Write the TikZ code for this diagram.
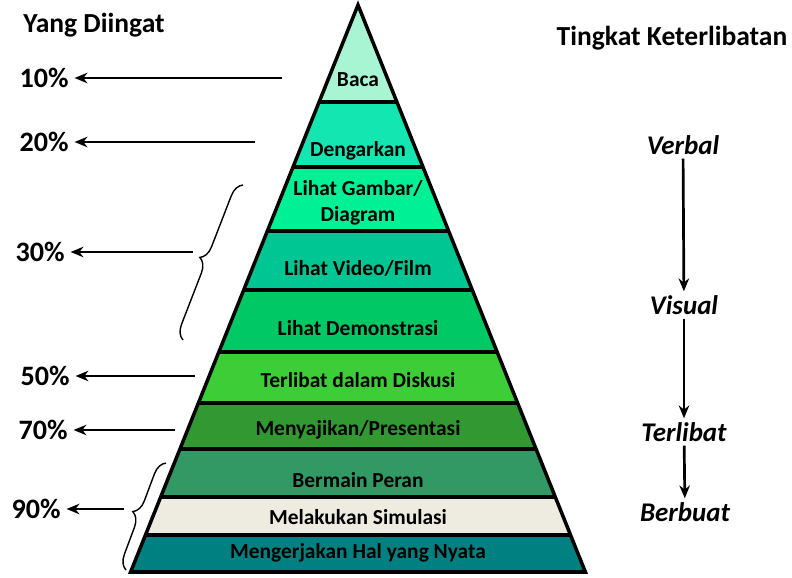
\documentclass[tikz,border=0pt]{standalone}
\usepackage{fontspec}
\setmainfont{Carlito}
\usepackage{tikz}
\usetikzlibrary{arrows.meta,decorations.pathreplacing}

\definecolor{baca}{RGB}{168,245,212}
\definecolor{dengar}{RGB}{20,230,178}
\definecolor{gambar}{RGB}{0,240,150}
\definecolor{video}{RGB}{0,198,148}
\definecolor{demo}{RGB}{0,200,100}
\definecolor{diskusi}{RGB}{60,205,55}
\definecolor{saji}{RGB}{50,152,50}
\definecolor{peran}{RGB}{50,152,100}
\definecolor{simulasi}{RGB}{238,236,225}
\definecolor{nyata}{RGB}{0,128,128}

\tikzset{
  declare function={pl(\y)=358-0.401*(\y-5); pr(\y)=358+0.401*(\y-5);},
  edge/.style={draw=black, line width=3pt},
  lbl/.style={font=\fontsize{18.3}{22}\selectfont\bfseries, align=center},
  pct/.style={font=\fontsize{24}{26}\selectfont\bfseries, inner sep=5pt},
  ttl/.style={font=\fontsize{23.5}{25}\selectfont\bfseries},
  lvl/.style={font=\fontsize{23}{25}\selectfont\bfseries\itshape},
  arr/.style={-{Stealth[length=11pt,width=9pt]}, line width=1.8pt},
  darr/.style={arr, line width=2.3pt},
  brc/.style={decorate, decoration={brace, amplitude=12pt}, line width=1.2pt}
}

\begin{document}
\begin{tikzpicture}[x=0.3mm, y=-0.3mm]
	\useasboundingbox (0,0) rectangle (792,578);

	% the bands of the pyramid
	\foreach \ya/\yb/\col in {5/102/baca, 102/167/dengar, 167/231/gambar, 231/290/video, 290/352/demo, 352/403/diskusi, 403/449/saji, 449/497/peran, 497/535/simulasi, 535/572/nyata}
		\fill[\col] ({pl(\ya)},\ya) -- ({pr(\ya)},\ya) -- ({pr(\yb)},\yb) -- ({pl(\yb)},\yb) -- cycle;
	\foreach \y in {102,167,231,290,352,403,449,497,535}
		\draw[edge] ({pl(\y)},\y) -- ({pr(\y)},\y);
	\draw[edge] (358,5) -- ({pr(572)},572) -- ({pl(572)},572) -- cycle;

	\node[lbl] (baca) at (358,80) {Baca};
	\node[lbl] (dengar) at (358,151) {Dengarkan};
	\node[lbl] (gambar) at (358,203) {Lihat Gambar/\\Diagram};
	\node[lbl] (video) at (358,268) {Lihat Video/Film};
	\node[lbl] (demo) at (358,328) {Lihat Demonstrasi};
	\node[lbl] (diskusi) at (358,380) {Terlibat dalam Diskusi};
	\node[lbl] (saji) at (358,430) {Menyajikan/Presentasi};
	\node[lbl] (peran) at (358,480) {Bermain Peran};
	\node[lbl] (simulasi) at (358,517) {Melakukan Simulasi};
	\node[lbl] (nyata) at (358,553) {Mengerjakan Hal yang Nyata};

	% left side
	\node[ttl] (diingat) at (94,25) {Yang Diingat};
	\node[pct] (p10) at (44,78) {10\%};
	\node[pct] (p20) at (44,142) {20\%};
	\node[pct] (p30) at (40,252) {30\%};
	\node[pct] (p50) at (45,376) {50\%};
	\node[pct] (p70) at (43,430) {70\%};
	\node[pct] (p90) at (36,509) {90\%};

	\coordinate (s10) at (282,78);
	\coordinate (s20) at (255,142);
	\coordinate (s50) at (195,376);
	\coordinate (s70) at (175,430);
	\draw[arr] (s10) -- (p10);
	\draw[arr] (s20) -- (p20);
	\draw[arr] (s50) -- (p50);
	\draw[arr] (s70) -- (p70);

	\coordinate (b30a) at (183,340);
	\coordinate (b30b) at (243,185);
	\coordinate (t30) at (193,252);
	\draw[brc] (b30a) -- (b30b);
	\draw[arr] (t30) -- (p30);

	\coordinate (b90a) at (126,570);
	\coordinate (b90b) at (166,463);
	\coordinate (t90) at (124,509);
	\draw[brc] (b90a) -- (b90b);
	\draw[arr] (t90) -- (p90);

	% right side
	\node[ttl] (libat) at (672,38) {Tingkat Keterlibatan};
	\node[lvl] (verbal) at (683,145) {Verbal};
	\node[lvl] (visual) at (684,305) {Visual};
	\node[lvl] (terlibat) at (684,432) {Terlibat};
	\node[lvl] (berbuat) at (685,512) {Berbuat};
	\draw[darr] (verbal) -- (visual);
	\draw[darr] (visual) -- (terlibat);
	\draw[darr] (terlibat) -- (berbuat);
\end{tikzpicture}
\end{document}
